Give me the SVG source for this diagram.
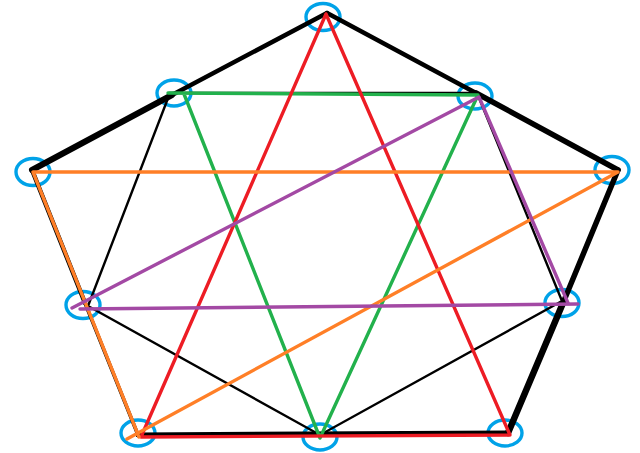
<svg xmlns="http://www.w3.org/2000/svg" width="640" height="453" viewBox="0 0 640 453">
<style>
.pt{fill:none;stroke:#00a2e8;stroke-width:3.4}
.thick{stroke:#000;stroke-linecap:round;fill:none}
.thin{stroke:#000;stroke-width:2.4;fill:none;stroke-linecap:round}
.c{fill:none;stroke-width:3.4;stroke-linecap:round;stroke-linejoin:round}
</style>
<rect width="640" height="453" fill="#fff"/>
<g id="nodes">
<g id="n-top"><ellipse class="pt" cx="323" cy="17" rx="17" ry="13.5"/></g>
<g id="n-ulm"><ellipse class="pt" cx="174" cy="93" rx="17" ry="13"/></g>
<g id="n-urm"><ellipse class="pt" cx="475" cy="96" rx="17" ry="13"/></g>
<g id="n-left"><ellipse class="pt" cx="33" cy="172" rx="17" ry="13.5"/></g>
<g id="n-right"><ellipse class="pt" cx="612" cy="170" rx="17" ry="13.5"/></g>
<g id="n-llm"><ellipse class="pt" cx="83" cy="305" rx="17" ry="13.5"/></g>
<g id="n-lrm"><ellipse class="pt" cx="562" cy="303" rx="17" ry="13.5"/></g>
<g id="n-bl"><ellipse class="pt" cx="138" cy="433" rx="17" ry="13"/></g>
<g id="n-bm"><ellipse class="pt" cx="320" cy="437" rx="17" ry="13"/></g>
<g id="n-br"><ellipse class="pt" cx="505" cy="433" rx="17" ry="13"/></g>
</g>
<g id="connectors">
<line class="thick" x1="32" y1="170" x2="172" y2="95" stroke-width="6"/>
<line class="thick" x1="172" y1="95" x2="327" y2="13" stroke-width="4.5"/>
<line class="thick" x1="327" y1="13" x2="476" y2="93" stroke-width="4.5"/>
<line class="thick" x1="476" y1="93" x2="618" y2="170" stroke-width="5.5"/>
<line class="thick" x1="618" y1="170" x2="563" y2="303" stroke-width="5.5"/>
<line class="thick" x1="563" y1="303" x2="508" y2="433" stroke-width="6.5"/>
<line class="thick" x1="508" y1="433" x2="138" y2="435" stroke-width="5"/>
<line class="thick" x1="138" y1="435" x2="85" y2="303" stroke-width="3.5"/>
<line class="thick" x1="85" y1="303" x2="32" y2="170" stroke-width="4.5"/>
<polygon class="thin" points="170,93 477,93 562,301 320,435 88,306"/>
<polyline class="c" stroke="#22b14c" points="168,93 478,95 320,438 184,94"/>
<polyline class="c" stroke="#ed1c24" points="326,14 141,437 510,435 326,14"/>
<polyline class="c" stroke="#ff7f27" points="139,437 33,172 618,172 127,439"/>
<polyline class="c" stroke="#a349a4" points="72,308 479,97 568,303"/>
<line class="c" stroke="#a349a4" x1="578" y1="304" x2="80" y2="309"/>
</g>
</svg>
